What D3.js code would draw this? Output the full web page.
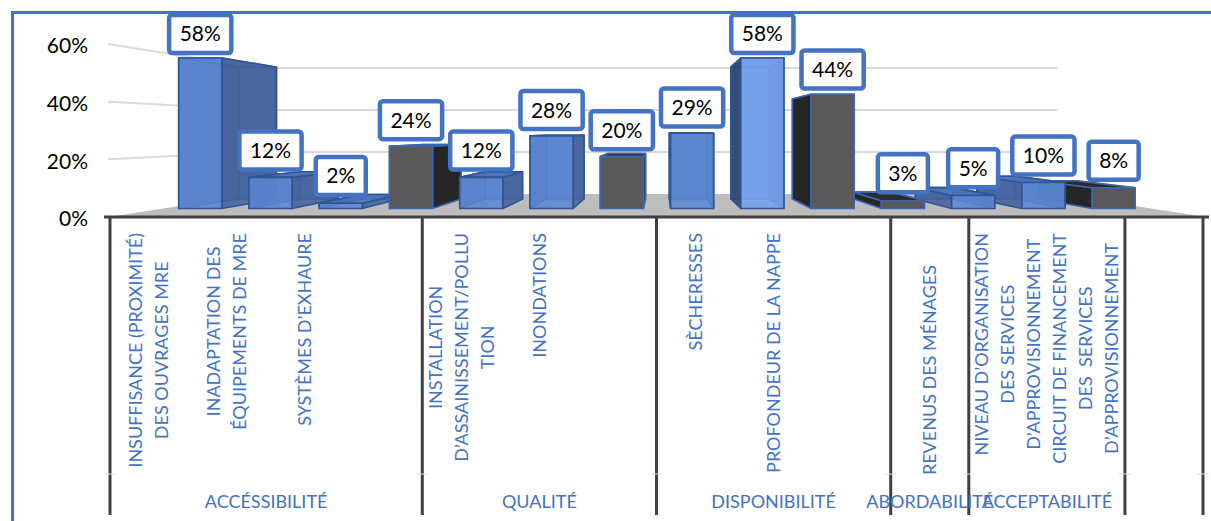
<!DOCTYPE html>
<html><head><meta charset="utf-8">
<script src="https://cdn.jsdelivr.net/npm/d3@7"></script>
<style>
html,body{margin:0;padding:0;background:#fff;}
svg{display:block;font-family:Lato,"Open Sans",sans-serif;}
</style></head><body>
<svg id="chart" width="1211" height="521"></svg>
<script>
// ---------- data ----------
const categoryLines = [
  ["INSUFFISANCE (PROXIMITÉ)", "DES OUVRAGES MRE"],
  ["INADAPTATION DES", "ÉQUIPEMENTS DE MRE"],
  ["SYSTÈMES D’EXHAURE"],
  [],
  ["INSTALLATION", "D’ASSAINISSEMENT/POLLU", "TION"],
  ["INONDATIONS"],
  [],
  ["SÈCHERESSES"],
  ["PROFONDEUR DE LA NAPPE"],
  [],
  ["REVENUS DES MÉNAGES"],
  ["NIVEAU D’ORGANISATION", "DES SERVICES", "D’APPROVISIONNEMENT"],
  ["CIRCUIT DE FINANCEMENT", "DES  SERVICES", "D’APPROVISIONNEMENT"],
  []
];
const values = [58, 12, 2, 24, 12, 28, 20, 29, 58, 44, 3, 5, 10, 8];
const seriesOf = ["blue","blue","blue","dark","blue","blue","dark","blue","light","dark","dark","blue","blue","dark"];
const groupNames = ["ACCÉSSIBILITÉ", "QUALITÉ", "DISPONIBILITÉ", "ABORDABILITÉ", "ACCEPTABILITÉ", ""];
const groupSizes = [4, 3, 3, 1, 2, 1];
const yTicks = [0, 20, 40, 60];

// ---------- layout ----------
const svg = d3.select("#chart");
const X_LEFT = 110, X_RIGHT = 1203, Y_BASE = 217, Y_TOP = 44;
const VX = 661, VY = 132, F_FRONT = 0.9, F_BACK = 0.788, F_WALL = 0.728, F_LABEL = 0.879;
const idx = d3.range(values.length);
const x = d3.scaleBand().domain(idx).range([X_LEFT, X_RIGHT]).paddingInner(0.387).paddingOuter(0.1935);
const slot = d3.scaleBand().domain(idx).range([X_LEFT, X_RIGHT]).padding(0);
const y = d3.scaleLinear().domain([0, 60]).range([Y_BASE, Y_TOP]);
const P = (X, Y, f) => [VX + (X - VX) * f, VY + (Y - VY) * f];
const poly = pts => "M" + pts.map(p => p[0].toFixed(2) + "," + p[1].toFixed(2)).join("L") + "Z";

const styles = {
  blue:  {front:"#5a86d2", side:"#44629a", top:"#4b72b8", back:"#4a72bd", stroke:"#2f5597", op:0.88},
  light: {front:"#78a1ec", side:"#2d456f", top:"#5c84cd", back:"#6790dc", stroke:"#2f5597", op:0.9},
  dark:  {front:"#595959", side:"#262626", top:"#2c2c2c", back:"#3a3a3a", stroke:"#3d66b0", op:1}
};

// outer border
svg.append("rect").attr("x", 12.5).attr("y", 12.5).attr("width", 1400).attr("height", 700)
  .attr("fill", "none").attr("stroke", "#4472c4").attr("stroke-width", 3);

// floor
const XL = 108, XR = 1206;
svg.append("path")
  .attr("d", poly([P(XL, Y_BASE, 1), P(XR, Y_BASE, 1), P(XR, Y_BASE, F_WALL), P(XL, Y_BASE, F_WALL)]))
  .attr("fill", "#bdbdbd");

// gridlines (left wall + back wall)
svg.append("g").selectAll("path").data(yTicks.filter(t => t > 0)).join("path")
  .attr("d", t => { const a = P(XL, y(t), 1), b = P(XL, y(t), F_WALL), c = P(XR, y(t), F_WALL);
    return `M${a}L${b}L${c}`; })
  .attr("fill", "none").attr("stroke", "#d9d9d9").attr("stroke-width", 2);

// value axis
const ya = svg.append("g").attr("transform", `translate(${XL},2)`)
  .call(d3.axisLeft(y).tickValues(yTicks).tickFormat(d => d + "%").tickSize(0).tickPadding(20));
ya.select(".domain").remove();
ya.selectAll("text").attr("font-size", 21).attr("fill", "#000").attr("font-family", "Lato");

// bars
const order = idx.slice().sort((a, b) =>
  Math.abs(x(b) + x.bandwidth() / 2 - VX) - Math.abs(x(a) + x.bandwidth() / 2 - VX));
const barsG = svg.append("g");
order.forEach(i => {
  const st = styles[seriesOf[i]];
  const X0 = x(i), X1 = x(i) + x.bandwidth(), Yt = y(values[i]), Yb = y(0);
  const faces = {
    back:  [P(X0,Yt,F_BACK), P(X1,Yt,F_BACK), P(X1,Yb,F_BACK), P(X0,Yb,F_BACK)],
    left:  [P(X0,Yt,F_FRONT), P(X0,Yt,F_BACK), P(X0,Yb,F_BACK), P(X0,Yb,F_FRONT)],
    right: [P(X1,Yt,F_FRONT), P(X1,Yt,F_BACK), P(X1,Yb,F_BACK), P(X1,Yb,F_FRONT)],
    top:   [P(X0,Yt,F_FRONT), P(X1,Yt,F_FRONT), P(X1,Yt,F_BACK), P(X0,Yt,F_BACK)],
    front: [P(X0,Yt,F_FRONT), P(X1,Yt,F_FRONT), P(X1,Yb,F_FRONT), P(X0,Yb,F_FRONT)]
  };
  const leftVis = X0 > VX, rightVis = X1 < VX, topVis = Yt > VY;
  const seq = [["back", st.back]];
  if (!leftVis) seq.push(["left", st.side]);
  if (!rightVis) seq.push(["right", st.side]);
  if (!topVis) seq.push(["top", st.top]);
  if (leftVis) seq.push(["left", st.side]);
  if (rightVis) seq.push(["right", st.side]);
  if (topVis) seq.push(["top", st.top]);
  seq.push(["front", st.front]);
  const g = barsG.append("g");
  seq.forEach(([k, col]) => {
    g.append("path").attr("d", poly(faces[k])).attr("fill", col).attr("fill-opacity", st.op)
      .attr("stroke", st.stroke).attr("stroke-width", 1.6).attr("stroke-linejoin", "round");
  });
});

// data labels
const labG = svg.append("g");
idx.forEach(i => {
  const cx = P(x(i) + x.bandwidth() / 2, 0, F_FRONT)[0];
  const yb = P(0, y(values[i]), F_LABEL)[1] - 5.75;
  const g = labG.append("g");
  const t = g.append("text").text(values[i] + "%").attr("font-size", 21).attr("fill", "#000")
    .attr("text-anchor", "middle").attr("x", cx).attr("y", yb - 20 + 7.5);
  const w = t.node().getComputedTextLength() + 21;
  g.insert("rect", "text").attr("x", cx - w / 2).attr("y", yb - 39).attr("width", w).attr("height", 38)
    .attr("rx", 3).attr("fill", "#fff").attr("stroke", "#4472c4").attr("stroke-width", 4.5);
});

// category axis line
svg.append("line").attr("x1", 104).attr("x2", 1209).attr("y1", Y_BASE).attr("y2", Y_BASE)
  .attr("stroke", "#404040").attr("stroke-width", 3);

// group dividers
const bounds = [0, ...d3.cumsum(groupSizes)];
const step = slot.step();
const divG = svg.append("g");
bounds.forEach(b => {
  const xx = X_LEFT + b * step;
  divG.append("line").attr("x1", xx).attr("x2", xx).attr("y1", Y_BASE).attr("y2", 515)
    .attr("stroke", "#404040").attr("stroke-width", 3);
  divG.append("line").attr("x1", xx - 6).attr("x2", xx + 6).attr("y1", 474).attr("y2", 474)
    .attr("stroke", "#e0e0e0").attr("stroke-width", 1);
});

// category labels (rotated)
const LINE_GAP = 26, LABEL_TOP = 233;
const topShift = {10: 32};
const catG = svg.append("g").attr("fill", "#4472c4").attr("font-size", 18);
idx.forEach(i => {
  const lines = categoryLines[i];
  if (!lines.length) return;
  const cx = slot(i) + slot.bandwidth() / 2;
  const ts = lines.map(s => catG.append("text").text(s).attr("text-anchor", "middle")
    .attr("dy", "0.35em").style("white-space", "pre"));
  const maxLen = d3.max(ts, t => t.node().getComputedTextLength());
  const cy = LABEL_TOP + (topShift[i] || 0) + maxLen / 2;
  ts.forEach((t, j) => {
    const lx = cx + (j - (lines.length - 1) / 2) * LINE_GAP;
    t.attr("transform", `translate(${lx},${cy}) rotate(-90)`);
  });
});

// group labels
const grpG = svg.append("g").attr("fill", "#4472c4").attr("font-size", 18).attr("text-anchor", "middle");
groupNames.forEach((name, k) => {
  const cx = X_LEFT + (bounds[k] + bounds[k + 1]) / 2 * step;
  grpG.append("text").text(name).attr("x", cx).attr("y", 508);
});
</script>
</body></html>
